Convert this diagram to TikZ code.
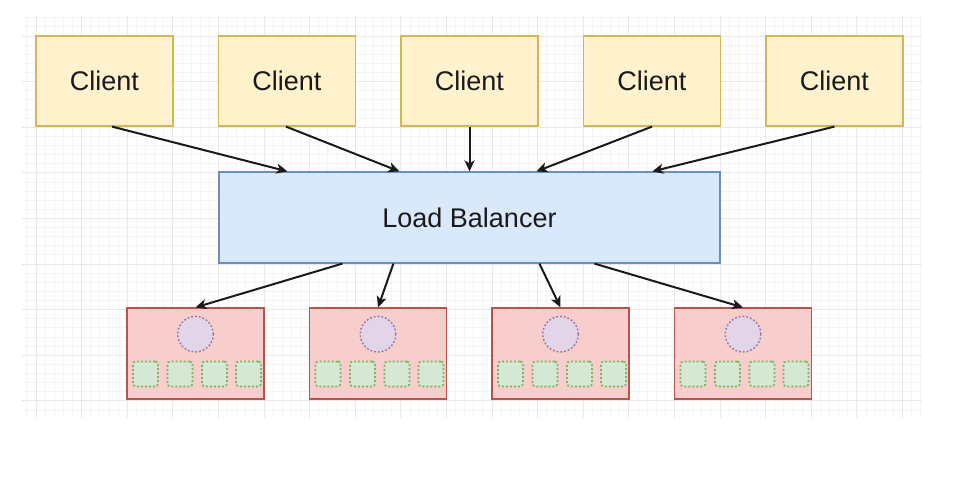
\documentclass[tikz,border=0pt]{standalone}
\usepackage{fontspec}
\setmainfont{Liberation Sans}
\usetikzlibrary{arrows.meta,calc}
\definecolor{clientfill}{HTML}{FFF2CC}
\definecolor{clientdraw}{HTML}{D6B656}
\definecolor{lbfill}{HTML}{DAE8FC}
\definecolor{lbdraw}{HTML}{6C8EBF}
\definecolor{srvfill}{HTML}{F8CECC}
\definecolor{srvdraw}{HTML}{B85450}
\definecolor{cirfill}{HTML}{E1D5E7}
\definecolor{cirdraw}{HTML}{9673A6}
\definecolor{sqfill}{HTML}{D5E8D4}
\definecolor{sqdraw}{HTML}{82B366}
\definecolor{gridminor}{HTML}{F4F4F4}
\definecolor{gridmajor}{HTML}{E8E8E8}
\definecolor{ink}{HTML}{1A1A1A}
\tikzset{
  client/.style={draw=clientdraw, fill=clientfill, line width=1.2pt, minimum width=137pt, minimum height=90pt, inner sep=0pt, font=\fontsize{27}{32}\selectfont, text=ink},
  lbbox/.style={draw=lbdraw, fill=lbfill, line width=1.2pt, minimum width=501pt, minimum height=91pt, inner sep=0pt, font=\fontsize{27}{32}\selectfont, text=ink},
  server/.style={draw=srvdraw, fill=srvfill, line width=1.2pt, minimum width=137pt, minimum height=91pt, inner sep=0pt},
  proc/.style={circle, draw=cirdraw, fill=cirfill, line width=1.4pt, dash pattern=on 1.8pt off 2pt, minimum size=35.6pt, inner sep=0pt},
  slot/.style={draw=sqdraw, fill=sqfill, line width=1.8pt, dash pattern=on 2pt off 2pt, rounded corners=3pt, minimum width=25pt, minimum height=25pt, inner sep=0pt},
  link/.style={draw=ink, line width=2pt, -{Stealth[length=11pt,width=10pt,inset=3pt]}},
}
\begin{document}
\begin{tikzpicture}[x=1pt, y=-1pt]
\useasboundingbox (0,0) rectangle (954,479);
\fill[white] (0,0) rectangle (954,479);
% grid
\begin{scope}
\clip (22,16) rectangle (922,418);
\foreach \k in {-1,...,97}{
  \pgfmathsetmacro\xx{36+9.12*\k}
  \draw[gridminor, line width=0.8pt] (\xx,16) -- (\xx,418);
}
\foreach \k in {-2,...,41}{
  \pgfmathsetmacro\yy{36+9.12*\k}
  \draw[gridminor, line width=0.8pt] (22,\yy) -- (922,\yy);
}
\foreach \k in {0,5,...,95}{
  \pgfmathsetmacro\xx{36+9.12*\k}
  \draw[gridmajor, line width=0.9pt] (\xx,16) -- (\xx,418);
}
\foreach \k in {0,5,...,40}{
  \pgfmathsetmacro\yy{36+9.12*\k}
  \draw[gridmajor, line width=0.9pt] (22,\yy) -- (922,\yy);
}
\end{scope}
% clients
\node[client] (c1) at (104.5,81) {Client};
\node[client] (c2) at (287,81) {Client};
\node[client] (c3) at (469.5,81) {Client};
\node[client] (c4) at (652,81) {Client};
\node[client] (c5) at (834.5,81) {Client};
% load balancer
\node[lbbox] (lb) at (469.5,217.5) {Load Balancer};
% servers
\foreach \i/\x in {1/195.5, 2/378, 3/560.5, 4/743}{
  \node[server] (s\i) at (\x,353.5) {};
  \node[proc] (s\i p) at ($(s\i.north)+(0,26.8)$) {};
  \foreach \j/\dx in {1/-50, 2/-15.5, 3/19, 4/53}{
    \node[slot] (s\i q\j) at ($(s\i.north)+(\dx,66.5)$) {};
  }
}
% client -> load balancer
\draw[link] ($(c1.south)+(7.5,0)$) -- ($(lb.north west)+(69,0)$);
\draw[link] ($(c2.south)+(-1,0)$) -- ($(lb.north west)+(181,0)$);
\draw[link] (c3.south) -- (lb.north);
\draw[link] (c4.south) -- ($(lb.north west)+(318,0)$);
\draw[link] (c5.south) -- ($(lb.north west)+(434,0)$);
% load balancer -> servers
\draw[link] ($(lb.south west)+(124,0)$) -- (s1.north);
\draw[link] ($(lb.south west)+(175,0)$) -- (s2.north);
\draw[link] ($(lb.south west)+(321,0)$) -- (s3.north);
\draw[link] ($(lb.south west)+(376,0)$) -- (s4.north);
\end{tikzpicture}
\end{document}
